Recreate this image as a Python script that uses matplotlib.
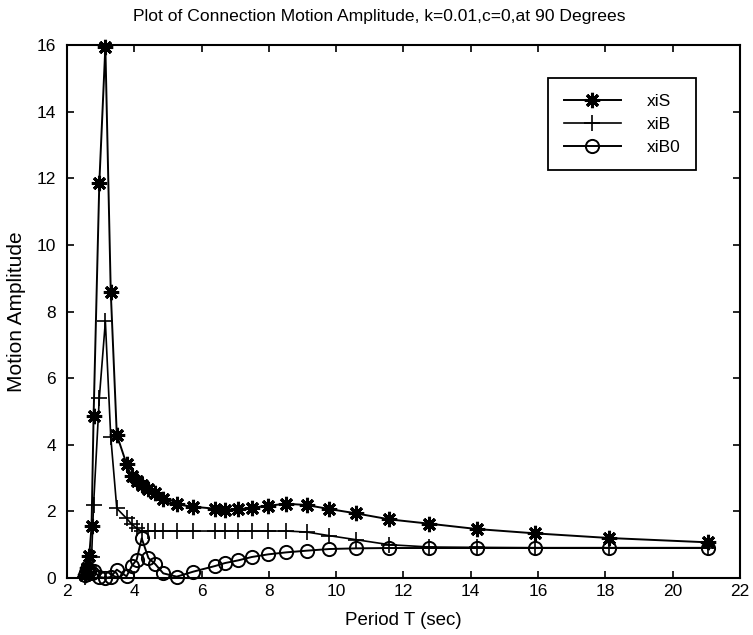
import matplotlib
matplotlib.use('Agg')
import matplotlib.pyplot as plt

period = [2.53, 2.60, 2.66, 2.73, 2.79, 2.96, 3.14, 3.30, 3.48, 3.77, 3.92,
          4.07, 4.22, 4.42, 4.62, 4.86, 5.26, 5.75, 6.40, 6.70, 7.09, 7.49,
          7.98, 8.52, 9.12, 9.80, 10.59, 11.58, 12.77, 14.18, 15.91, 18.12, 21.06]
xiS = [0.08, 0.30, 0.66, 1.55, 4.85, 11.85, 15.95, 8.60, 4.30, 3.42, 3.05,
       2.90, 2.80, 2.66, 2.54, 2.36, 2.21, 2.14, 2.08, 2.05, 2.06, 2.11,
       2.17, 2.23, 2.19, 2.07, 1.94, 1.76, 1.63, 1.47, 1.34, 1.20, 1.07]
xiB = [0.04, 0.15, 0.35, 0.62, 2.20, 5.40, 7.70, 4.24, 2.09, 1.79, 1.62,
       1.49, 1.40, 1.41, 1.41, 1.41, 1.41, 1.41, 1.41, 1.41, 1.41, 1.41,
       1.41, 1.41, 1.38, 1.27, 1.15, 1.00, 0.93, 0.92, 0.91, 0.91, 0.91]
xiB0 = [0.08, 0.28, 0.20, 0.15, 0.22, 0.03, 0.00, 0.03, 0.25, 0.05, 0.35,
        0.55, 1.19, 0.60, 0.42, 0.14, 0.04, 0.19, 0.36, 0.45, 0.53, 0.63,
        0.71, 0.77, 0.82, 0.87, 0.89, 0.90, 0.90, 0.90, 0.90, 0.90, 0.90]

series_names = ['xiS', 'xiB', 'xiB0']
x_ticks = [2, 4, 6, 8, 10, 12, 14, 16, 18, 20, 22]
y_ticks = [0, 2, 4, 6, 8, 10, 12, 14, 16]

plt.rcParams['font.family'] = ['Liberation Sans', 'DejaVu Sans']

fig = plt.figure(figsize=(7.53, 6.35), dpi=100)
ax = fig.add_axes([67/753, 1-578/635, (740-67)/753, (578-45)/635])

ax.plot(period, xiS, color='black', lw=1.4, marker=(8, 2, 0), markersize=11,
        markeredgewidth=2.2, label=series_names[0], clip_on=False)
ax.plot(period, xiB, color='black', lw=1.2, marker='+', markersize=12,
        markeredgewidth=1.2, label=series_names[1], clip_on=False)
ax.plot(period, xiB0, color='black', lw=1.4, marker='o', markersize=9.5,
        markerfacecolor='none', markeredgewidth=1.4, label=series_names[2], clip_on=False)

ax.set_xlim(2, 22)
ax.set_ylim(0, 16)
ax.set_xticks(x_ticks)
ax.set_yticks(y_ticks)
ax.tick_params(direction='in', top=True, right=True, length=5, width=1.2,
               labelsize=12.5, colors='black')
ax.tick_params(axis='x', pad=4)
ax.tick_params(axis='y', pad=8)
for s in ax.spines.values():
    s.set_linewidth(1.5)
    s.set_color('black')

ax.set_xlabel('Period T (sec)', fontsize=13.5, labelpad=10)
ax.set_ylabel('Motion Amplitude', fontsize=15)
ax.yaxis.set_label_coords(-0.061, 0.5)
fig.text(379/753, 1-16/635,
         'Plot of Connection Motion Amplitude, k=0.01,c=0,at 90 Degrees',
         fontsize=12.6, ha='center', va='center')

leg = ax.legend(loc='upper left', bbox_to_anchor=(548/753, 1-78/635),
                bbox_transform=fig.transFigure, frameon=True, fancybox=False,
                edgecolor='black', framealpha=1, fontsize=12.5,
                handlelength=3.3, handletextpad=1.5, labelspacing=0.45,
                borderpad=0.9, borderaxespad=0)
leg.get_frame().set_linewidth(1.3)

fig.savefig('out.png', dpi=100)
